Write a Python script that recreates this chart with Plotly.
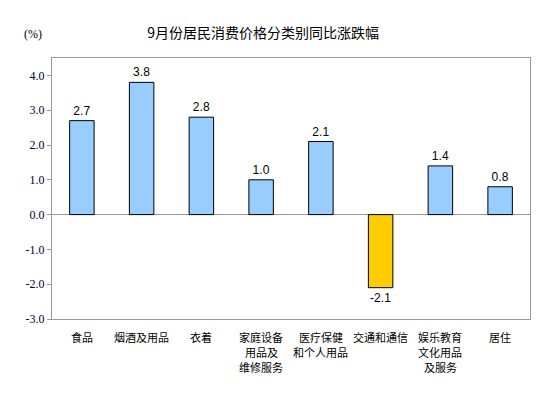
import plotly.graph_objects as go

categories = ["食品", "烟酒及用品", "衣着", "家庭设备", "医疗保健", "交通和通信", "娱乐教育", "居住"]
label_lines = [["食品"], ["烟酒及用品"], ["衣着"], ["家庭设备", "用品及", "维修服务"],
               ["医疗保健", "和个人用品"], ["交通和通信"], ["娱乐教育", "文化用品", "及服务"], ["居住"]]
values = [2.7, 3.8, 2.8, 1.0, 2.1, -2.1, 1.4, 0.8]
tick_vals = [-3, -2, -1, 0, 1, 2, 3, 4]
tick_text = ["-3.0", "-2.0", "-1.0", "0.0", "1.0", "2.0", "3.0", "4.0"]

colors = ["#FFCC00" if v < 0 else "#99CCFF" for v in values]
labels = [f"{v:.1f}" for v in values]

fig = go.Figure(go.Bar(
    x=categories, y=values,
    marker=dict(color=colors, line=dict(color="black", width=1)),
    width=0.41,
    text=labels, textposition="outside",
    textfont=dict(family="Liberation Sans, Arial", size=12, color="black"),
    cliponaxis=False,
))

annotations = [dict(text="(%)", xref="paper", yref="paper", x=-0.04, y=1.092, showarrow=False,
                    xanchor="center", yanchor="middle",
                    font=dict(family="Liberation Serif", size=12, color="black"))]
for cat, lines in zip(categories, label_lines):
    for i, ln in enumerate(lines):
        annotations.append(dict(text=ln, x=cat, xref="x", yref="paper", y=0, yshift=-18 - 15 * i,
                                showarrow=False, xanchor="center", yanchor="middle",
                                font=dict(family="Noto Sans CJK SC", size=11, color="black")))

# page body has an 8px default margin, so the figure is sized to fit the 553x398 window
fig.update_layout(
    width=545, height=390,
    margin=dict(l=44, r=23, t=50, b=79),
    paper_bgcolor="white", plot_bgcolor="white",
    showlegend=False,
    font=dict(family="Noto Sans CJK SC", size=11, color="black"),
    title=dict(text="9月份居民消费价格分类别同比涨跌幅", x=0.468, xanchor="center", y=0.936, yanchor="middle",
               font=dict(family="Noto Sans CJK SC", size=14, color="black")),
    annotations=annotations,
)

fig.update_yaxes(
    range=[-3, 4.5], tickvals=tick_vals, ticktext=tick_text, automargin=False,
    showgrid=False, zeroline=True, zerolinecolor="#999999", zerolinewidth=1,
    showline=True, linecolor="#999999", linewidth=1, mirror=True,
    ticks="outside", ticklen=4, tickcolor="#999999",
    tickfont=dict(family="Liberation Serif", size=12, color="#000033"),
)
fig.update_xaxes(
    showgrid=False, showline=True, linecolor="#999999", linewidth=1, mirror=True,
    ticks="", showticklabels=False, automargin=False,
)

fig.write_html("out.html")
